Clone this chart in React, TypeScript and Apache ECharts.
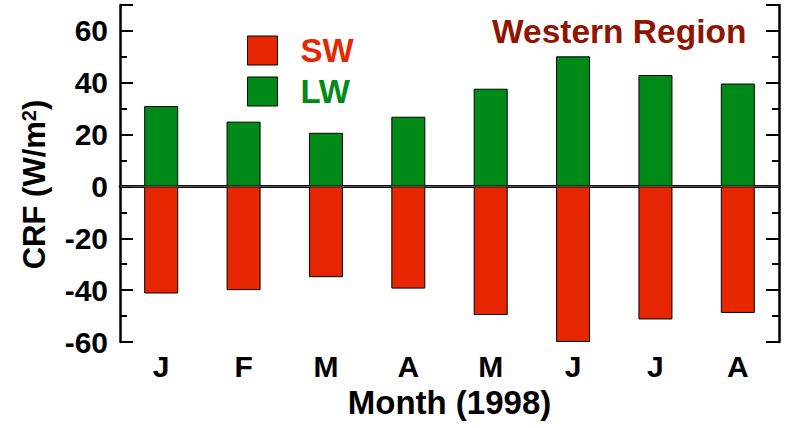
import React, { useEffect, useRef } from "react";
import * as echarts from "echarts";

const months = ["J", "F", "M", "A", "M", "J", "J", "A"];
const swValues = [-41.3, -40, -35, -39.4, -49.6, -60, -51.3, -48.8];
const lwValues = [31, 25, 20.7, 26.9, 37.7, 50.2, 43, 39.7];
const yMin = -60;
const yMax = 70;

const FONT = "'Liberation Sans', Arial, Helvetica, sans-serif";
const RED = "#e62600";
const GREEN = "#008a18";
const TITLE = "#8f1500";

export default function App() {
  const ref = useRef<HTMLDivElement>(null);
  useEffect(() => {
    if (!ref.current) return;
    const chart = echarts.init(ref.current, null, { renderer: "svg" });
    const baseY = {
      type: "value",
      min: yMin,
      max: yMax,
      splitLine: { show: false },
    };
    chart.setOption({
      animation: false,
      textStyle: { fontFamily: FONT },
      title: {
        text: "Western Region",
        left: 492,
        top: 14,
        padding: 0,
        textStyle: { fontSize: 33.5, fontWeight: "bold", color: TITLE, fontFamily: FONT },
      },
      legend: {
        orient: "vertical",
        left: 247,
        top: 34,
        padding: 0,
        itemWidth: 30,
        itemHeight: 29,
        itemGap: 8,
        icon: "rect",
        itemStyle: { borderColor: "#000", borderWidth: 1 },
        textStyle: { fontSize: 33, fontWeight: "bold", fontFamily: FONT, padding: [0, 0, 0, 18] },
        data: [
          { name: "SW", textStyle: { color: RED } },
          { name: "LW", textStyle: { color: GREEN } },
        ],
      },
      grid: { left: 120, right: 11, top: 5, bottom: 86, containLabel: false },
      xAxis: [
        {
          type: "category",
          data: months,
          position: "bottom",
          name: "Month (1998)",
          nameLocation: "middle",
          nameGap: 40,
          nameTextStyle: { fontSize: 33, fontWeight: "bold", color: "#000", fontFamily: FONT },
          axisLine: { lineStyle: { color: "#000", width: 2.5 } },
          axisTick: { inside: true, length: 12, lineStyle: { color: "#000", width: 2 } },
          axisLabel: { fontSize: 30, fontWeight: "bold", color: "#000", margin: 9, fontFamily: FONT },
        },
        {
          type: "category",
          data: months,
          position: "top",
          axisLine: { lineStyle: { color: "#000", width: 2.5 } },
          axisTick: { inside: true, length: 12, lineStyle: { color: "#000", width: 2 } },
          axisLabel: { show: false },
        },
      ],
      yAxis: [
        {
          ...baseY,
          position: "left",
          interval: 20,
          name: "{a|CRF (W/m}{s|2}{a|)}",
          nameLocation: "middle",
          nameGap: 70,
          nameRotate: 90,
          nameTextStyle: {
            padding: [0, 22, 0, 0],
            rich: {
              a: { fontSize: 31, fontWeight: "bold", color: "#000", fontFamily: FONT },
              s: { fontSize: 20, fontWeight: "bold", color: "#000", fontFamily: FONT, verticalAlign: "top" },
            },
          },
          axisLine: { show: true, lineStyle: { color: "#000", width: 2.5 } },
          axisTick: { show: true, inside: true, length: 13, lineStyle: { color: "#000", width: 2 } },
          axisLabel: {
            fontSize: 30,
            fontWeight: "bold",
            color: "#000",
            margin: 12,
            fontFamily: FONT,
            formatter: (v: number) => (v === yMax ? "" : String(v)),
          },
        },
        {
          ...baseY,
          position: "left",
          interval: 10,
          axisLine: { show: false },
          axisTick: { show: true, inside: true, length: 7, lineStyle: { color: "#000", width: 2 } },
          axisLabel: { show: false },
        },
        {
          ...baseY,
          position: "right",
          interval: 20,
          axisLine: { show: true, lineStyle: { color: "#000", width: 2.5 } },
          axisTick: { show: true, inside: true, length: 13, lineStyle: { color: "#000", width: 2 } },
          axisLabel: { show: false },
        },
        {
          ...baseY,
          position: "right",
          interval: 10,
          axisLine: { show: false },
          axisTick: { show: true, inside: true, length: 7, lineStyle: { color: "#000", width: 2 } },
          axisLabel: { show: false },
        },
      ],
      series: [
        {
          name: "SW",
          type: "bar",
          stack: "crf",
          data: swValues,
          barWidth: 34,
          itemStyle: { color: RED, borderColor: "#000", borderWidth: 1 },
          markLine: {
            silent: true,
            symbol: "none",
            label: { show: false },
            lineStyle: { color: "#555", width: 1, type: "solid" },
            data: [{ yAxis: 0 }],
          },
        },
        {
          name: "LW",
          type: "bar",
          stack: "crf",
          data: lwValues,
          barWidth: 34,
          itemStyle: { color: GREEN, borderColor: "#000", borderWidth: 1 },
        },
      ],
    });
    return () => chart.dispose();
  }, []);
  return <div ref={ref} style={{ width: 790, height: 428, position: "absolute", left: 0, top: 0 }} />;
}
